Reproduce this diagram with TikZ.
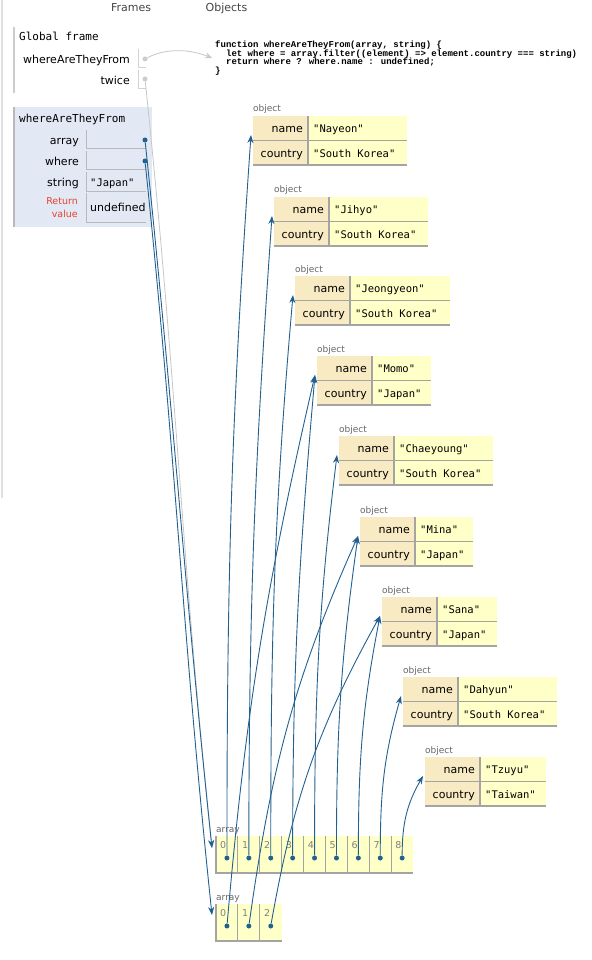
\documentclass[tikz,border=0pt]{standalone}
\usepackage{fontspec}
\setmainfont{DejaVu Sans}
\newfontfamily\monof{DejaVu Sans Mono}
\newfontfamily\codef{Liberation Mono}
\usetikzlibrary{arrows.meta}
\definecolor{ptblue}{HTML}{22608F}
\definecolor{keybg}{HTML}{F8EAC3}
\definecolor{valbg}{HTML}{FFFFC8}
\definecolor{framebg}{HTML}{E2E9F4}
\definecolor{tabgray}{HTML}{A4A4A4}
\definecolor{labgray}{HTML}{666666}
\definecolor{hdrgray}{HTML}{444444}
\definecolor{retred}{HTML}{E5432F}
\newcommand\ptfs[1]{\fontsize{#1}{#1}\selectfont}
\tikzset{
  ptr/.style={draw=ptblue, line width=0.9pt, -{Stealth[length=8pt,width=6pt,inset=2.5pt]}},
  gptr/.style={draw=gray!45, line width=0.8pt, -{Stealth[length=7pt,width=6pt,inset=2.5pt]}},
  ptdot/.style={circle, fill=ptblue, inner sep=0pt, minimum size=5pt},
  gdot/.style={circle, fill=gray!40, inner sep=0pt, minimum size=5pt},
  keyt/.style={inner sep=0pt, font=\ptfs{11}, anchor=base east},
  valt/.style={inner sep=0pt, font=\monof\ptfs{10.5}, anchor=base west},
  sanst/.style={inner sep=0pt, font=\ptfs{11}, anchor=base west},
  monot/.style={inner sep=0pt, font=\monof\ptfs{11}, anchor=base west},
  smallt/.style={inner sep=0pt, font=\ptfs{9}, text=labgray, anchor=base west},
  idxt/.style={inner sep=0pt, font=\ptfs{9.5}, text=gray, anchor=base west},
  codet/.style={inner sep=0pt, font=\codef\bfseries\ptfs{9}, anchor=base west},
  hdrt/.style={inner sep=0pt, font=\ptfs{11}, text=hdrgray, anchor=base},
  tabline/.style={draw=tabgray, line width=1.2pt},
  cellsep/.style={draw=tabgray, line width=1pt},
  fcell/.style={draw=gray!55, line width=1pt},
}
\newcommand\objbox[6]{%
  \fill[keybg] (#2,#3) rectangle (#2+55,#3+49);
  \fill[valbg] (#2+55,#3) rectangle (#2+55+#4,#3+49);
  \draw[tabline] (#2,#3+24.5) -- (#2+55+#4,#3+24.5);
  \draw[tabline] (#2,#3+49) -- (#2+55+#4,#3+49);
  \draw[tabline] (#2+55,#3) -- (#2+55,#3+49);
  \node[smallt] (#1-lab) at (#2,#3-4) {object};
  \node[keyt] (#1-k1) at (#2+50,#3+16.5) {name};
  \node[keyt] (#1-k2) at (#2+50,#3+41.5) {country};
  \node[valt] (#1-v1) at (#2+60,#3+16.5) {#5};
  \node[valt] (#1-v2) at (#2+60,#3+41.5) {#6};
  \coordinate (#1) at (#2-2,#3+19);
}
\begin{document}
\begin{tikzpicture}[x=1pt,y=-1pt]
\useasboundingbox (0,0) rectangle (591,960);
% panel border
\draw[draw=gray!25, line width=1.5pt] (2,0) -- (2,498);
% headers
\node[hdrt] (hframes) at (131,11.5) {Frames};
\node[hdrt] (hobjects) at (226.5,11.5) {Objects};
% global frame
\draw[draw=gray!40, line width=2pt] (14,27) -- (14,93);
\node[monot] (gtitle) at (19,41) {Global frame};
\node[keyt] (gname1) at (130,64) {whereAreTheyFrom};
\node[keyt] (gname2) at (130,85) {twice};
\draw[fcell, draw=gray!35] (138,49) -- (138,68) -- (146,68);
\draw[fcell, draw=gray!35] (138,70) -- (138,89) -- (146,89);
\node[gdot] (gf) at (145,59) {};
\node[gdot] (gt) at (145,79) {};
% code
\node[codet] (c1) at (215,47.5) {function whereAreTheyFrom(array, string) \{};
\node[codet] (c2) at (225.9,56.5) {let where = array.filter((element) => element.country === string)};
\node[codet] (c3) at (225.9,65) {return where ? where.name : undefined;};
\node[codet] (c4) at (215,74) {\}};
\coordinate (fcode) at (212,58);
% function frame
\fill[framebg] (13,107) rectangle (152,227);
\draw[draw=gray!55, line width=1.5pt] (14,107) -- (14,227);
\node[monot] (ftitle) at (19,122.5) {whereAreTheyFrom};
\node[keyt] (fl1) at (79,145) {array};
\node[keyt] (fl2) at (79,166) {where};
\node[keyt] (fl3) at (79,186) {string};
\node[keyt, font=\ptfs{9.5}, text=retred] (fl4) at (78,204.5) {Return};
\node[keyt, font=\ptfs{9.5}, text=retred] (fl5) at (78,217) {value};
\foreach \t/\b in {130/149,151/170,172/191,193/222} {\draw[fcell] (86,\t) -- (86,\b) -- (146,\b);}
\node[valt] (fv3) at (90,186) {"Japan"};
\node[sanst] (fv4) at (90,211) {undefined};
\node[ptdot] (fa) at (145,140) {};
\node[ptdot] (fw) at (145,161) {};
% objects
\objbox{o0}{253}{116}{99}{"Nayeon"}{"South Korea"}
\objbox{o1}{274}{197}{99}{"Jihyo"}{"South Korea"}
\objbox{o2}{295}{276}{100}{"Jeongyeon"}{"South Korea"}
\objbox{o3}{317}{356}{59}{"Momo"}{"Japan"}
\objbox{o4}{339}{436}{99}{"Chaeyoung"}{"South Korea"}
\objbox{o5}{360}{517}{58}{"Mina"}{"Japan"}
\objbox{o6}{382}{597}{60}{"Sana"}{"Japan"}
\objbox{o7}{403}{677}{99}{"Dahyun"}{"South Korea"}
\objbox{o8}{425}{757}{66}{"Tzuyu"}{"Taiwan"}
% array 1
\fill[valbg] (216,836) rectangle (413,873);
\foreach \i in {1,...,8} {\draw[cellsep] ({216+21.9*\i},836) -- ++(0,37);}
\draw[tabline] (216,836) -- (216,873) -- (413,873);
\node[smallt] (a1-lab) at (216,832.5) {array};
\foreach \i in {0,...,8} {
  \node[idxt] (a1-i\i) at ({216+21.9*\i+4},848.5) {\i};
  \node[ptdot] (a1-\i) at ({216+21.9*(\i+0.5)},858) {};
}
\coordinate (arr1) at (212,848);
% array 2
\fill[valbg] (216,904) rectangle (281.7,941);
\foreach \i in {1,2} {\draw[cellsep] ({216+21.9*\i},904) -- ++(0,37);}
\draw[tabline] (216,904) -- (216,941) -- (281.7,941);
\node[smallt] (a2-lab) at (216,900.5) {array};
\foreach \i in {0,...,2} {
  \node[idxt] (a2-i\i) at ({216+21.9*\i+4},916.5) {\i};
  \node[ptdot] (a2-\i) at ({216+21.9*(\i+0.5)},926) {};
}
\coordinate (arr2) at (212,915);
% connectors (angles are screen angles)
\draw[gptr] (gf) .. controls (168,47) and (192,50) .. (fcode);
\draw[gptr] (gt) to[out=276,in=96] (arr1);
\draw[ptr] (fa) to[out=276,in=96] (arr1);
\draw[ptr] (fw) to[out=276,in=96] (arr2);
\draw[ptr] (a1-0) to[out=90,in=266] (o0);
\draw[ptr] (a1-1) to[out=90,in=266] (o1);
\draw[ptr] (a1-2) to[out=90,in=265] (o2);
\draw[ptr] (a1-3) to[out=90,in=265] (o3);
\draw[ptr] (a1-4) to[out=90,in=263] (o4);
\draw[ptr] (a1-5) to[out=90,in=262] (o5);
\draw[ptr] (a1-6) to[out=90,in=259] (o6);
\draw[ptr] (a1-7) to[out=90,in=254] (o7);
\draw[ptr] (a1-8) to[out=90,in=240] (o8);
\draw[ptr] (a2-0) to[out=85,in=257] (o3);
\draw[ptr] (a2-1) to[out=82,in=246] (o5);
\draw[ptr] (a2-2) to[out=80,in=241] (o6);
\end{tikzpicture}
\end{document}
